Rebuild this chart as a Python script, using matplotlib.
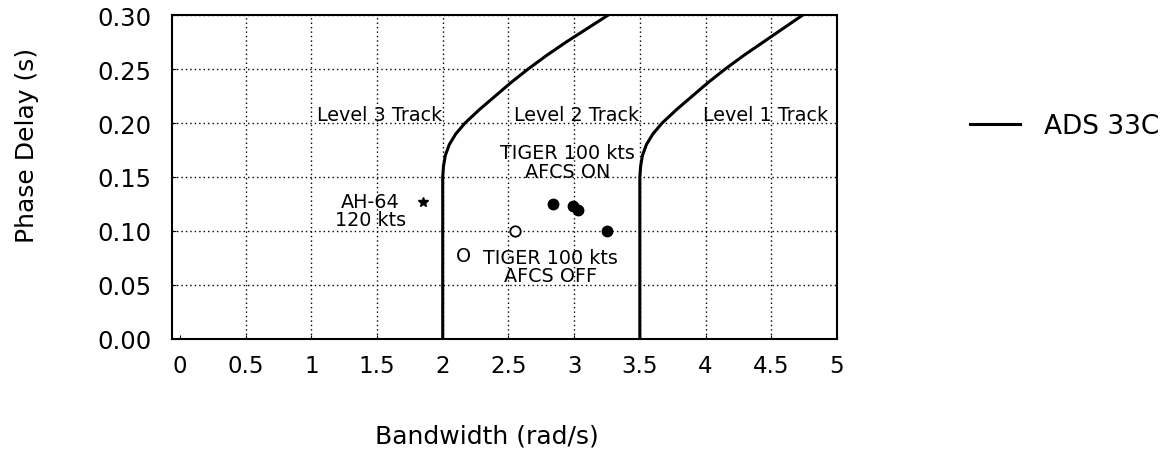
import matplotlib
matplotlib.use("Agg")
import matplotlib.pyplot as plt

# ADS-33C tracking boundaries (bandwidth rad/s, phase delay s)
lvl2_bw = [2.00, 2.00, 2.006, 2.02, 2.05, 2.10, 2.17, 2.28, 2.40, 2.52, 2.65, 2.79, 2.94, 3.10, 3.26]
lvl2_pd = [0.000, 0.150, 0.160, 0.170, 0.180, 0.190, 0.200, 0.2125, 0.225, 0.2375, 0.250, 0.2625, 0.275, 0.2875, 0.300]
lvl1_bw = [3.50, 3.50, 3.506, 3.52, 3.55, 3.60, 3.67, 3.78, 3.90, 4.02, 4.15, 4.29, 4.44, 4.59, 4.74]
lvl1_pd = [0.000, 0.150, 0.160, 0.170, 0.180, 0.190, 0.200, 0.2125, 0.225, 0.2375, 0.250, 0.2625, 0.275, 0.2875, 0.300]

# flight test points
ah64_bw, ah64_pd = [1.85], [0.127]
tiger_off_bw, tiger_off_pd = [2.55], [0.100]
tiger_on_bw = [2.84, 2.99, 3.03, 3.25]
tiger_on_pd = [0.125, 0.123, 0.119, 0.100]

x_ticks = [0, 0.5, 1, 1.5, 2, 2.5, 3, 3.5, 4, 4.5, 5]
x_tick_labels = ["0", "0.5", "1", "1.5", "2", "2.5", "3", "3.5", "4", "4.5", "5"]
y_ticks = [0.00, 0.05, 0.10, 0.15, 0.20, 0.25, 0.30]

fig = plt.figure(figsize=(11.66, 4.56), dpi=100)
ax = fig.add_axes([0.1475, 0.2544, 0.5703, 0.7105])

line, = ax.plot(lvl2_bw, lvl2_pd, color="black", lw=2.2, label="ADS 33C")
ax.plot(lvl1_bw, lvl1_pd, color="black", lw=2.2)

ax.plot(ah64_bw, ah64_pd, ls="none", marker="*", ms=7, color="black")
ax.plot(tiger_off_bw, tiger_off_pd, ls="none", marker="o", ms=7.5,
        mfc="white", mec="black", mew=1.3)
ax.plot(tiger_on_bw, tiger_on_pd, ls="none", marker="o", ms=7.5, color="black")

ax.set_xlim(-0.06, 5)
ax.set_ylim(0, 0.30)
ax.set_xticks(x_ticks)
ax.set_xticklabels(x_tick_labels)
ax.set_yticks(y_ticks)
ax.set_yticklabels([f"{v:.2f}" for v in y_ticks])
ax.tick_params(axis="both", direction="in", length=3)
ax.tick_params(axis="y", pad=15, labelsize=17.5)
ax.tick_params(axis="x", pad=11, labelsize=16.5)

ax.grid(True, color="black", ls=(0, (1, 2.2)), lw=1.0)
ax.xaxis.get_gridlines()[0].set_visible(False)
for s in ax.spines.values():
    s.set_linewidth(1.5)

ax.set_xlabel("Bandwidth (rad/s)", fontsize=18)
ax.set_ylabel("Phase Delay (s)", fontsize=18)
ax.xaxis.set_label_coords(0.473, -0.26)
ax.yaxis.set_label_coords(-0.2, 0.60)

# region and point annotations
txt = dict(fontsize=13.8, ha="center", va="center")
ax.text(1.52, 0.208, "Level 3 Track", **txt)
ax.text(3.02, 0.208, "Level 2 Track", **txt)
ax.text(4.46, 0.208, "Level 1 Track", **txt)
ax.text(2.95, 0.164, "TIGER 100 kts\nAFCS ON", linespacing=0.95, **txt)
ax.text(1.45, 0.119, "AH-64\n120 kts", linespacing=0.95, **txt)
ax.text(2.16, 0.077, "O", **txt)
ax.text(2.82, 0.067, "TIGER 100 kts\nAFCS OFF", linespacing=0.95, **txt)

fig.legend(handles=[line], loc="center left", bbox_to_anchor=(0.832, 0.7215),
           frameon=False, fontsize=19, handlelength=1.9, handletextpad=0.9,
           borderpad=0, borderaxespad=0)

fig.savefig("out.png", dpi=100)
